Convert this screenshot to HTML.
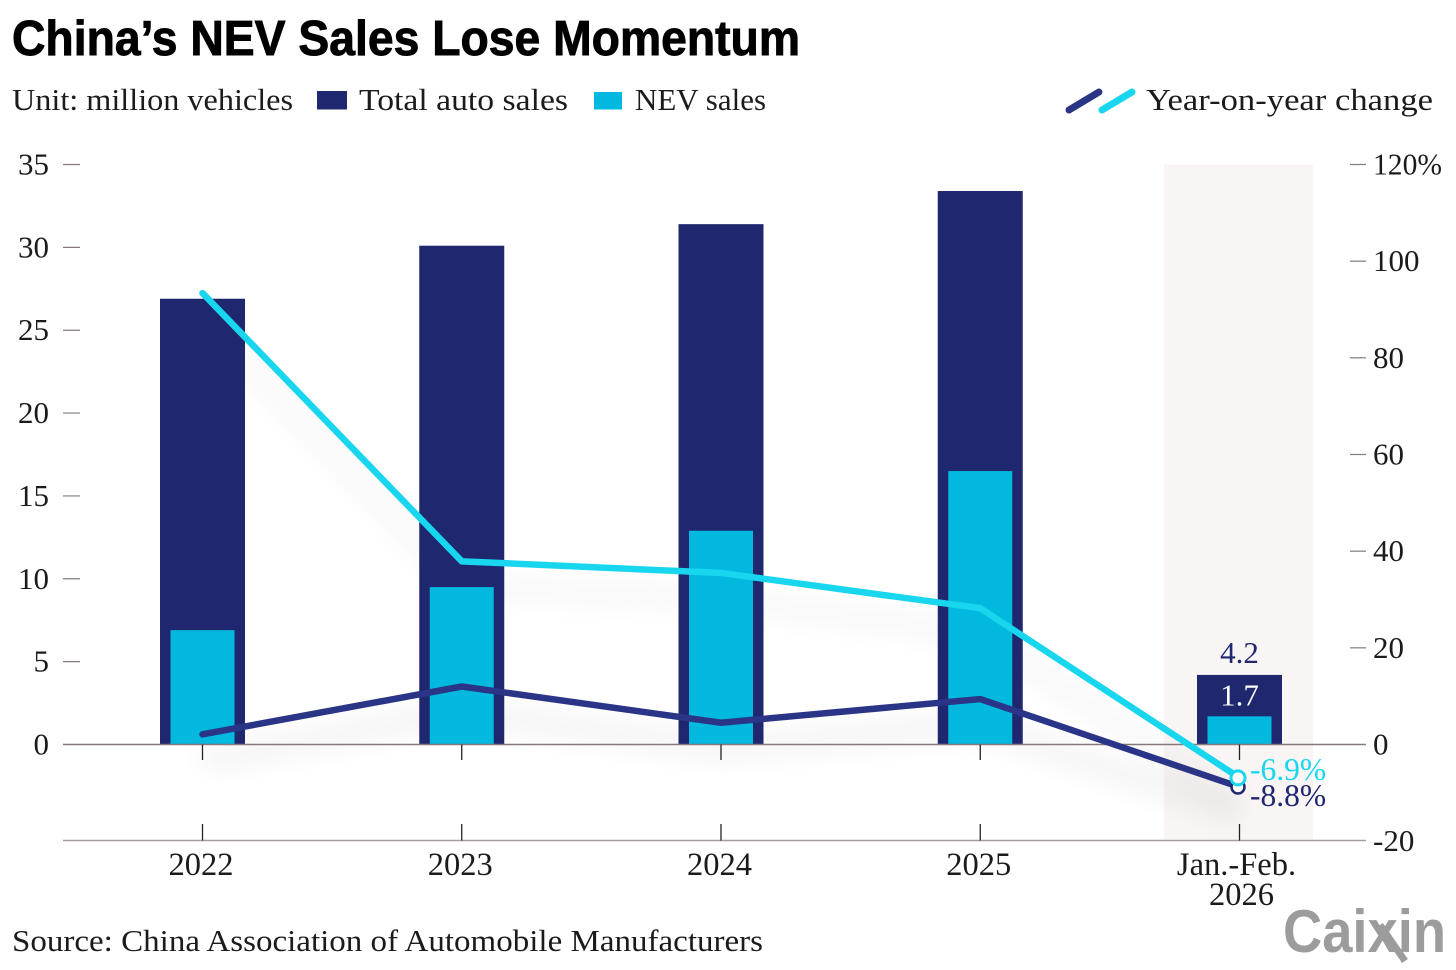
<!DOCTYPE html>
<html lang="en">
<head>
<meta charset="utf-8">
<title>China's NEV Sales Lose Momentum</title>
<style>
html,body{margin:0;padding:0;background:#fff;width:1456px;height:970px;overflow:hidden}
svg{display:block}
text{font-family:"Liberation Serif","DejaVu Serif",serif;fill:#1c1a1a}
</style>
</head>
<body>
<svg id="chart" xmlns="http://www.w3.org/2000/svg" width="1456" height="970" viewBox="0 0 1456 970">
  <defs>
    <filter id="soft" x="-20%" y="-40%" width="140%" height="200%">
      <feGaussianBlur stdDeviation="14"/>
    </filter>
  </defs>
  <rect width="1456" height="970" fill="#fff"/>
  <text x="12" y="55" textLength="788" lengthAdjust="spacingAndGlyphs" style="font-family:'Liberation Sans',sans-serif;font-weight:700;font-size:49px;fill:#000;stroke:#000;stroke-width:0.9px">China’s NEV Sales Lose Momentum</text>
  <text x="12" y="110" textLength="281" lengthAdjust="spacingAndGlyphs" font-size="31">Unit: million vehicles</text>
  <rect x="317" y="91" width="30" height="18.500" fill="#1f276f"/>
  <text x="359" y="110" textLength="209" lengthAdjust="spacingAndGlyphs" font-size="31">Total auto sales</text>
  <rect x="594" y="92" width="28" height="17.500" fill="#01b8df"/>
  <text x="635" y="110" textLength="131" lengthAdjust="spacingAndGlyphs" font-size="31">NEV sales</text>
  <line x1="1069" y1="110" x2="1099" y2="92" stroke="#2a3587" stroke-width="7" stroke-linecap="round"/>
  <line x1="1102" y1="110" x2="1132" y2="92" stroke="#19d6ef" stroke-width="7" stroke-linecap="round"/>
  <text x="1146" y="110" textLength="287" lengthAdjust="spacingAndGlyphs" font-size="31">Year-on-year change</text>
  <rect x="1164" y="164.500" width="149" height="675" fill="#f9f5f4"/>
  <g id="shadows"></g>
  <g id="bars"></g>
  <g id="axes"></g>
  <g id="lines"></g>
  <g id="labels"></g>
  <text x="12" y="951" textLength="751" lengthAdjust="spacingAndGlyphs" font-size="31">Source: China Association of Automobile Manufacturers</text>
  <g>
    <text x="1283" y="952" textLength="163" lengthAdjust="spacingAndGlyphs" style="font-family:'Liberation Sans',sans-serif;font-weight:700;font-size:60px;fill:#9c9c9c">Caixin</text>
    <line x1="1380" y1="925" x2="1405" y2="961" stroke="#9c9c9c" stroke-width="7"/>
  </g>
</svg>
<script>
const categories = ["2022", "2023", "2024", "2025", "Jan.-Feb.|2026"];
const totalSales = [26.9, 30.1, 31.4, 33.4, 4.2];
const nevSales = [6.9, 9.5, 12.9, 16.5, 1.7];
const totalYoY = [2.1, 12, 4.5, 9.4, -8.8];
const nevYoY = [93.4, 37.9, 35.5, 28.2, -6.9];
const leftTicks = [0, 5, 10, 15, 20, 25, 30, 35];
const rightTicks = [-20, 0, 20, 40, 60, 80, 100, 120];

const NS = "http://www.w3.org/2000/svg";
const xScale = i => 202.5 + i * 259.25;
const yLeft = v => 744.5 - v * (580 / 35);
const yRight = v => 744.5 - v * (580 / 120);

function make(parent, tag, attrs, txt) {
  const el = document.createElementNS(NS, tag);
  for (const k in attrs) el.setAttribute(k, attrs[k]);
  if (txt !== undefined) el.textContent = txt;
  parent.appendChild(el);
  return el;
}
const barsG = document.getElementById("bars");
const axesG = document.getElementById("axes");
const linesG = document.getElementById("lines");
const labelsG = document.getElementById("labels");
const shadowsG = document.getElementById("shadows");

categories.forEach((c, i) => {
  const x = xScale(i);
  const t = make(barsG, "rect", {x: x - 42.5, y: yLeft(totalSales[i]), width: 85, height: 744.5 - yLeft(totalSales[i]), fill: "#1f276f"});
  
  
  const n = make(barsG, "rect", {x: x - 32, y: yLeft(nevSales[i]), width: 64, height: 744.5 - yLeft(nevSales[i]), fill: "#01b8df"});
  
  
});

const zero = make(axesG, "line", {x1: 63, x2: 1366, y1: 744.5, y2: 744.5, stroke: "#85797a", "stroke-width": 1.5});


const base = make(axesG, "line", {x1: 63, x2: 1366, y1: 840.5, y2: 840.5, stroke: "#a59d9d", "stroke-width": 1.5});



leftTicks.forEach(v => {
  const y = yLeft(v);
  const lab = make(axesG, "text", {x: 49, y: y + 10, "text-anchor": "end", "font-size": 31}, String(v));
  
  
  if (v !== 0) {
    const tk = make(axesG, "line", {x1: 63, x2: 80, y1: y, y2: y, stroke: "#85797a", "stroke-width": 1.2});
    
    
  }
});

rightTicks.forEach(v => {
  const y = yRight(v);
  const s = v === 120 ? v + "%" : String(v);
  const attrs = {x: 1373, y: y + 10, "font-size": 31};
  if (v === 120) {
    attrs.textLength = 69;
    attrs.lengthAdjust = "spacingAndGlyphs";
  }
  const lab = make(axesG, "text", attrs, s);
  
  
  if (v > 0) {
    const tk = make(axesG, "line", {x1: 1350, x2: 1366, y1: y, y2: y, stroke: "#85797a", "stroke-width": 1.2});
    
    
  }
});

categories.forEach((c, i) => {
  const x = xScale(i);
  const a = make(axesG, "line", {x1: x, x2: x, y1: 744.5, y2: 760, stroke: "#222", "stroke-width": 1.3});
  
  
  const b = make(axesG, "line", {x1: x, x2: x, y1: 824, y2: 840.5, stroke: "#222", "stroke-width": 1.3});
  
  
  const parts = c.split("|");
  parts.forEach((part, j) => {
    const dx = parts.length > 1 ? (j === 0 ? -3 : 2) : -1.5;
    const lab = make(axesG, "text", {x: x + dx, y: 875 + j * 30, "text-anchor": "middle", "font-size": 32.5}, part);
    
    
  });
});

const ptStr = arr => arr.map((v, i) => xScale(i) + "," + yRight(v)).join(" ");
const ptStrShadow = arr => arr.map((v, i) => xScale(i) + "," + (yRight(v) + 26)).join(" ");

const sh1 = make(shadowsG, "polyline", {points: ptStrShadow(totalYoY), fill: "none", stroke: "#000", "stroke-width": 14, opacity: 0.08, filter: "url(#soft)"});


const sh2 = make(shadowsG, "polyline", {points: ptStrShadow(nevYoY), fill: "none", stroke: "#000", "stroke-width": 14, opacity: 0.05, filter: "url(#soft)"});



const l1 = make(linesG, "polyline", {points: ptStr(totalYoY), fill: "none", stroke: "#2a3587", "stroke-width": 6.5, "stroke-linecap": "round", "stroke-linejoin": "round"});


const l2 = make(linesG, "polyline", {points: ptStr(nevYoY), fill: "none", stroke: "#19d6ef", "stroke-width": 6.5, "stroke-linecap": "round", "stroke-linejoin": "round"});



const last = categories.length - 1;
const d1 = make(linesG, "circle", {cx: xScale(last) - 1.5, cy: yRight(totalYoY[last]), r: 6.5, fill: "#fff", stroke: "#1f276f", "stroke-width": 2.5});


const d2 = make(linesG, "circle", {cx: xScale(last) - 1.5, cy: yRight(nevYoY[last]), r: 7, fill: "#fff", stroke: "#19d6ef", "stroke-width": 3});



const v1 = make(labelsG, "text", {x: xScale(last), y: yLeft(totalSales[last]) - 12, "text-anchor": "middle", "font-size": 31, style: "fill:#1f276f"}, totalSales[last].toFixed(1));


const v2 = make(labelsG, "text", {x: xScale(last), y: yLeft(nevSales[last]) - 11, "text-anchor": "middle", "font-size": 31, style: "fill:#ffffff"}, nevSales[last].toFixed(1));


const v3 = make(labelsG, "text", {x: 1250, y: yRight(nevYoY[last]) + 2, "font-size": 31.5, style: "fill:#19d6ef"}, nevYoY[last].toFixed(1) + "%");


const v4 = make(labelsG, "text", {x: 1250, y: yRight(totalYoY[last]) + 19, "font-size": 31.5, style: "fill:#1f276f"}, totalYoY[last].toFixed(1) + "%");


</script>
</body>
</html>
